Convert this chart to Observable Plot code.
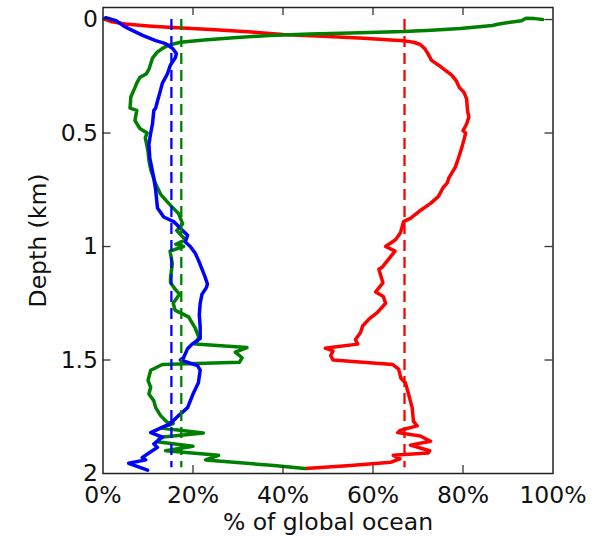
<!DOCTYPE html>
<html>
<head>
<meta charset="utf-8">
<script src="https://cdn.jsdelivr.net/npm/d3@7"></script>
<script src="https://cdn.jsdelivr.net/npm/@observablehq/plot@0.6"></script>
<style>
  body { margin: 0; background: #fff; }
  #chart svg { display: block; }
</style>
</head>
<body>
<div id="chart"></div>
<script>
// Share of the global ocean (%) against depth (km) for three classes, as [depth, percent]
const redProfile = [
  [-0.003, 0.2], [0.010, 2.0], [0.020, 5.0], [0.028, 10.0], [0.035, 15.5], [0.045, 25.0],
  [0.055, 33.0], [0.066, 40.0], [0.075, 50.0], [0.082, 58.0], [0.090, 64.0], [0.094, 67.0],
  [0.100, 69.0], [0.110, 70.5], [0.128, 71.5], [0.150, 72.2], [0.180, 73.0], [0.200, 74.5],
  [0.215, 75.5], [0.245, 77.5], [0.270, 78.5], [0.300, 79.2], [0.320, 80.2], [0.350, 80.8],
  [0.400, 81.0], [0.430, 81.3], [0.460, 80.8], [0.490, 80.0], [0.500, 80.6], [0.530, 80.2],
  [0.560, 79.8], [0.610, 79.0], [0.650, 78.3], [0.700, 76.8], [0.720, 76.5], [0.740, 75.6],
  [0.780, 74.5], [0.810, 72.8], [0.840, 70.6], [0.875, 68.4], [0.890, 66.8], [0.940, 66.1],
  [0.970, 65.0], [1.000, 62.8], [1.020, 64.9], [1.050, 63.7], [1.090, 62.1], [1.100, 61.3],
  [1.160, 62.2], [1.200, 60.6], [1.220, 62.3], [1.250, 62.8], [1.290, 61.0], [1.320, 59.1],
  [1.350, 57.7], [1.380, 57.2], [1.410, 56.1], [1.430, 56.6], [1.445, 50.5], [1.448, 49.4],
  [1.460, 51.1], [1.480, 50.6], [1.500, 51.1], [1.520, 64.4], [1.540, 65.7], [1.580, 66.2],
  [1.600, 67.2], [1.650, 67.9], [1.710, 68.7], [1.770, 69.0], [1.790, 69.8], [1.810, 66.0],
  [1.820, 65.5], [1.835, 70.5], [1.858, 72.8], [1.875, 68.3], [1.900, 72.6], [1.910, 72.2],
  [1.920, 64.5], [1.935, 66.0], [1.950, 64.0], [1.965, 55.0], [1.978, 45.0]
];

const greenProfile = [
  [0.000, 97.7], [-0.004, 96.0], [-0.006, 94.0], [0.005, 93.0], [0.012, 90.5], [0.020, 88.0],
  [0.026, 86.5], [0.033, 83.0], [0.040, 79.4], [0.047, 73.0], [0.053, 66.8], [0.059, 55.0],
  [0.064, 46.0], [0.070, 37.0], [0.080, 29.0], [0.090, 22.5], [0.100, 17.2], [0.115, 14.3],
  [0.130, 13.0], [0.145, 12.0], [0.170, 11.0], [0.195, 10.6], [0.220, 10.2], [0.240, 9.6],
  [0.255, 8.2], [0.280, 7.5], [0.300, 7.1], [0.340, 6.2], [0.390, 6.0], [0.400, 7.5],
  [0.445, 7.1], [0.480, 8.2], [0.500, 9.8], [0.520, 9.4], [0.580, 10.0], [0.620, 10.2],
  [0.660, 10.6], [0.720, 11.6], [0.770, 12.8], [0.810, 14.6], [0.855, 16.8], [0.900, 17.7],
  [0.930, 16.4], [0.970, 18.3], [0.990, 16.2], [1.000, 17.9], [1.020, 14.9], [1.075, 15.4],
  [1.140, 15.0], [1.160, 15.0], [1.190, 16.1], [1.210, 17.0], [1.250, 15.6], [1.280, 16.0],
  [1.310, 19.0], [1.360, 20.5], [1.400, 21.3], [1.430, 20.5], [1.445, 32.0], [1.465, 29.4],
  [1.490, 30.9], [1.510, 30.3], [1.520, 13.2], [1.545, 10.6], [1.590, 10.0], [1.620, 10.6],
  [1.650, 10.2], [1.680, 11.3], [1.710, 11.7], [1.745, 12.8], [1.775, 14.3], [1.780, 15.6],
  [1.800, 12.8], [1.822, 22.3], [1.840, 12.8], [1.860, 12.0], [1.880, 20.0], [1.900, 13.9],
  [1.920, 25.7], [1.940, 22.8], [1.965, 38.0], [1.978, 44.8]
];

const blueProfile = [
  [-0.008, 0.6], [0.005, 2.9], [0.026, 4.4], [0.040, 5.7], [0.070, 8.8], [0.093, 11.7],
  [0.106, 13.9], [0.128, 15.5], [0.150, 16.3], [0.167, 16.1], [0.200, 15.0], [0.240, 14.3],
  [0.280, 13.2], [0.310, 12.8], [0.360, 12.1], [0.390, 11.7], [0.400, 11.3], [0.460, 11.0],
  [0.500, 10.6], [0.550, 10.2], [0.610, 10.4], [0.700, 11.3], [0.750, 11.7], [0.830, 12.1],
  [0.870, 13.5], [0.890, 15.7], [0.920, 17.2], [0.950, 18.8], [0.980, 18.3], [1.000, 19.4],
  [1.030, 20.5], [1.060, 21.2], [1.100, 22.0], [1.135, 22.7], [1.165, 23.2], [1.180, 23.0],
  [1.210, 22.0], [1.250, 21.6], [1.300, 21.4], [1.355, 21.6], [1.405, 21.6], [1.430, 19.8],
  [1.450, 18.8], [1.490, 17.9], [1.500, 17.2], [1.525, 21.0], [1.545, 21.6], [1.600, 21.2],
  [1.650, 20.0], [1.710, 18.8], [1.745, 16.8], [1.780, 15.0], [1.800, 12.8], [1.820, 10.6],
  [1.840, 13.2], [1.870, 11.3], [1.885, 12.1], [1.910, 10.2], [1.930, 8.7], [1.940, 9.5],
  [1.955, 5.7], [1.985, 9.9]
];

// Depth-averaged share for each class, drawn as dashed verticals
const meanClasses = ["red", "green", "blue"];
const meanPercent = [67.0, 17.4, 15.2];

const seriesNames = ["red", "green", "blue"];
const seriesColors = ["#ff0000", "#008000", "#0000ff"];
const profiles = [redProfile, greenProfile, blueProfile];

const xTicks = [0, 20, 40, 60, 80, 100];
const yTicks = [0, 0.5, 1, 1.5, 2];
const xLabel = "% of global ocean";
const yLabel = "Depth (km)";

const rows = seriesNames.flatMap((name, i) =>
  profiles[i].map(([depth, pct]) => ({name, depth, pct}))
);
const means = meanClasses.map((name, i) => ({name, pct: meanPercent[i]}));
const colorOf = Object.fromEntries(seriesNames.map((n, i) => [n, seriesColors[i]]));

const W = 615, H = 542;
const mL = 102.5, mR = 62.5, mT = 7, mB = 69;
const frameW = W - mL - mR, frameH = H - mT - mB;
const tickLen = 8;
const font = "DejaVu Sans, sans-serif";
const fs = 23.5;

const chart = Plot.plot({
  width: W,
  height: H,
  marginLeft: mL,
  marginRight: mR,
  marginTop: mT,
  marginBottom: mB,
  style: {fontFamily: font, fontSize: `${fs}px`, background: "#fff", color: "#111"},
  x: {domain: [0, 100], label: null},
  y: {domain: [-0.053, 2], reverse: true, label: null},
  marks: [
    Plot.line(rows, {
      x: "pct", y: "depth", z: "name",
      stroke: d => colorOf[d.name],
      strokeWidth: 3.5, strokeLinejoin: "round", strokeLinecap: "round"
    }),
    Plot.ruleX(means, {
      x: "pct", y1: 0, y2: 1.975,
      stroke: d => colorOf[d.name],
      strokeWidth: 2.3, strokeDasharray: "11,6"
    }),
    // inward tick marks on all four sides
    Plot.ruleX(xTicks.slice(1, -1), {x: d => d, insetBottom: frameH - tickLen, stroke: "#333", strokeWidth: 1.3}),
    Plot.ruleX(xTicks.slice(1, -1), {x: d => d, insetTop: frameH - tickLen, stroke: "#333", strokeWidth: 1.3}),
    Plot.ruleY(yTicks.slice(0, -1), {y: d => d, insetRight: frameW - tickLen, stroke: "#333", strokeWidth: 1.3}),
    Plot.ruleY(yTicks.slice(0, -1), {y: d => d, insetLeft: frameW - tickLen, stroke: "#333", strokeWidth: 1.3}),
    Plot.frame({stroke: "#222", strokeWidth: 1.5}),
    Plot.axisX({ticks: xTicks, tickFormat: d => `${d}%`, tickSize: 0, tickPadding: 13, label: null, fontSize: fs}),
    Plot.axisY({ticks: yTicks, tickFormat: d => String(d), tickSize: 0, tickPadding: 5, label: null, fontSize: fs}),
    Plot.text([xLabel], {frameAnchor: "bottom", dy: 49, fontSize: fs, textAnchor: "middle", lineAnchor: "middle", fill: "#111"}),
    Plot.text([yLabel], {frameAnchor: "left", dx: -65, rotate: -90, fontSize: fs, textAnchor: "middle", lineAnchor: "middle", fill: "#111"})
  ]
});

document.getElementById("chart").appendChild(chart);
</script>
</body>
</html>
